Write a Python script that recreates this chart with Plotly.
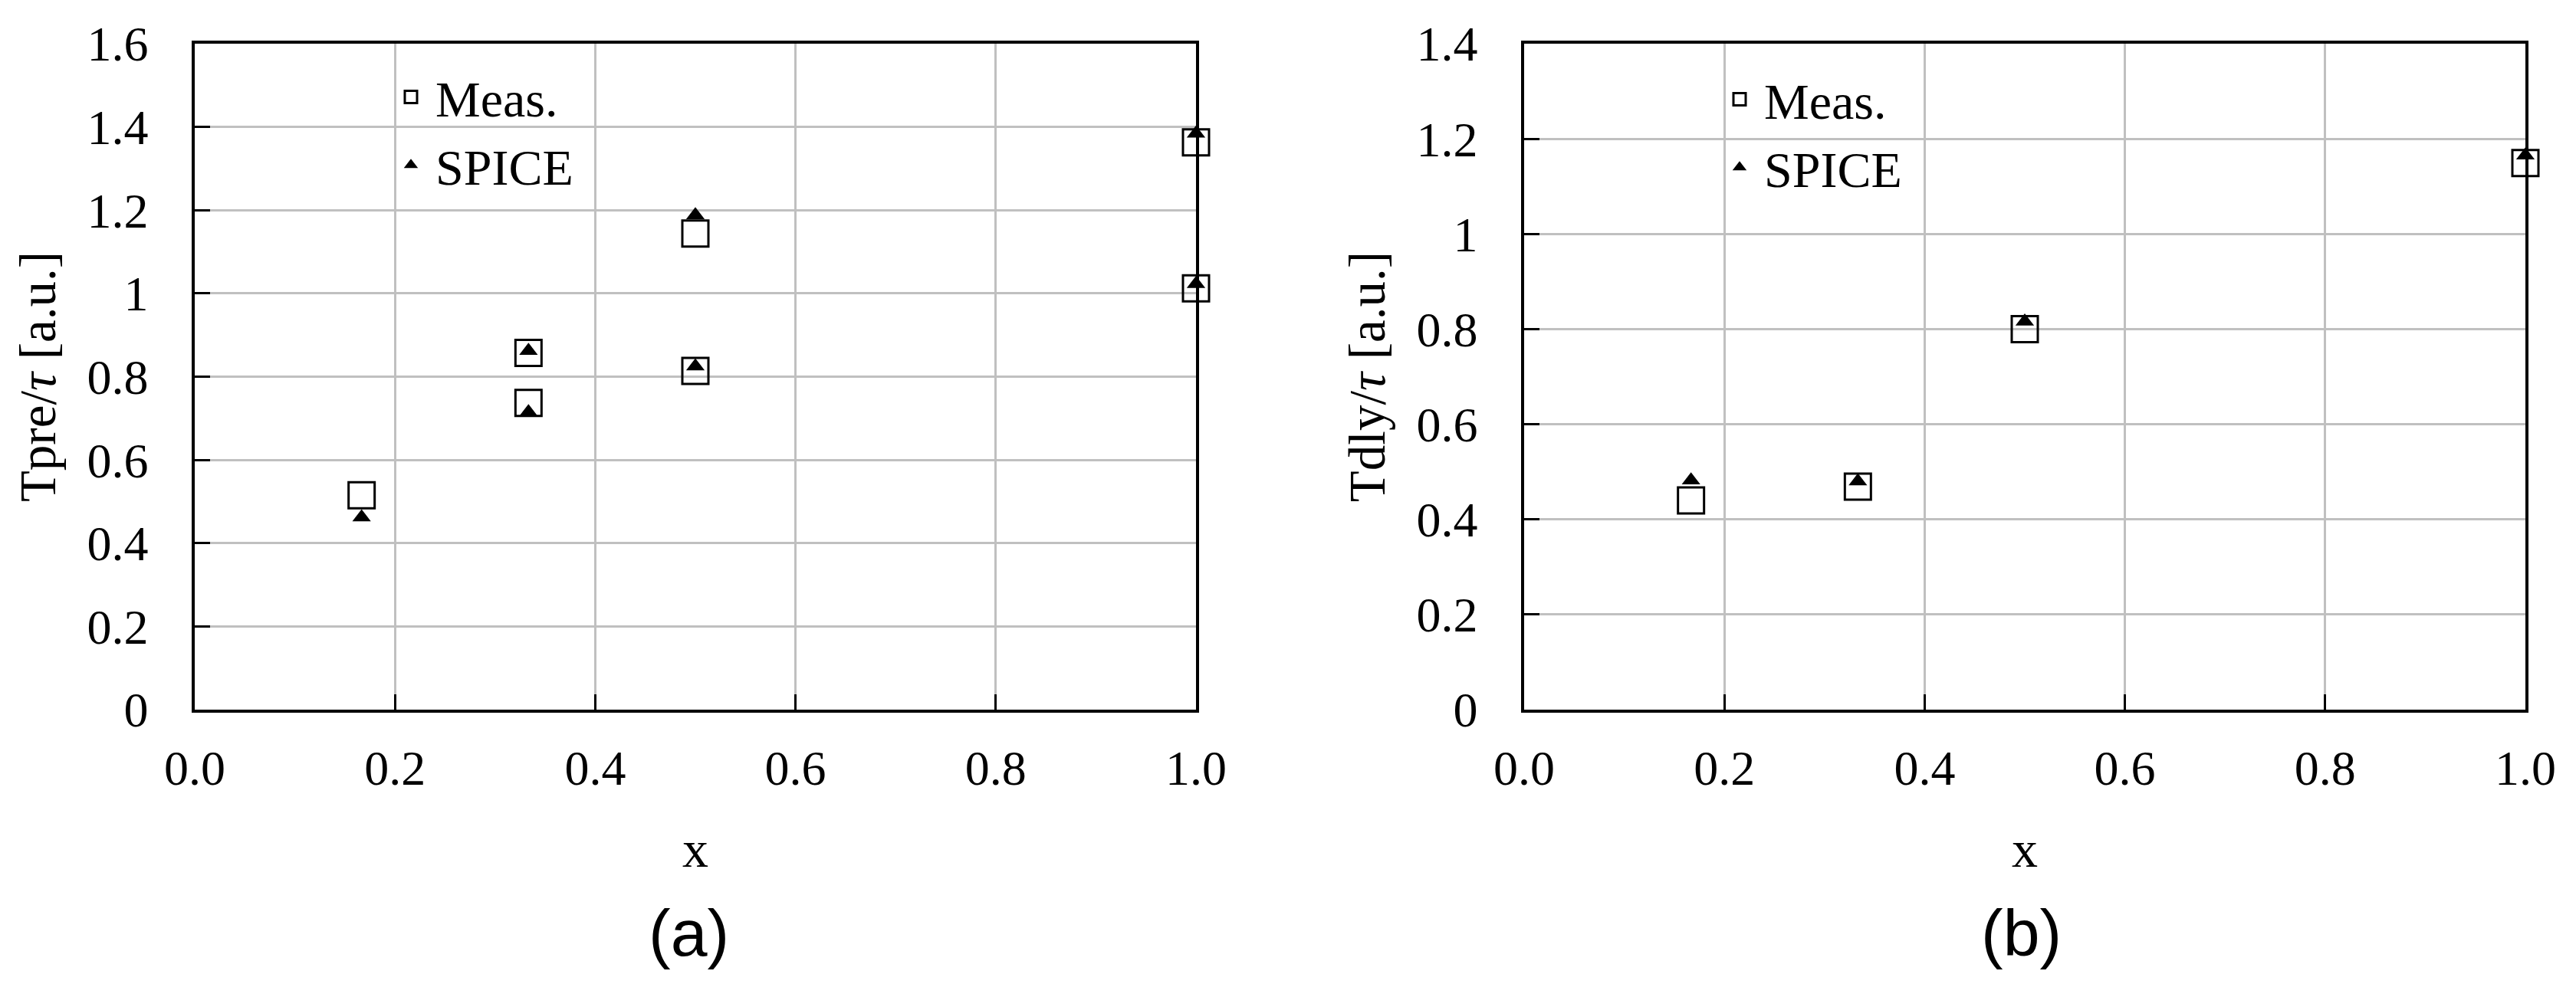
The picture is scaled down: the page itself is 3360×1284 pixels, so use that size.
import plotly.graph_objects as go

# ---- data: panel (a) ----
a_meas_x = [1/6, 1/3, 1/3, 0.5, 0.5, 1.0, 1.0]
a_meas_y = [0.515, 0.737, 0.857, 1.144, 0.814, 1.363, 1.012]
a_spice_x = [1/6, 1/3, 1/3, 0.5, 0.5, 1.0, 1.0]
a_spice_y = [0.462, 0.715, 0.862, 1.188, 0.825, 1.384, 1.023]

# ---- data: panel (b) ----
b_meas_x = [1/6, 1/3, 0.5, 1.0]
b_meas_y = [0.440, 0.469, 0.800, 1.149]
b_spice_x = [1/6, 1/3, 0.5, 1.0]
b_spice_y = [0.482, 0.480, 0.816, 1.165]

x_ticks = [0.0, 0.2, 0.4, 0.6, 0.8, 1.0]
a_title_y = "Tpre/<i>τ</i> [a.u.]"
b_title_y = "Tdly/<i>τ</i> [a.u.]"
title_x = "x"
panel_labels = ["(a)", "(b)"]

# page is 3360x1284; the html body has an 8px margin
OFF = 8
W, H = 3360 - 2 * OFF, 1284 - 2 * OFF
SERIF = "Liberation Serif, Times New Roman, serif"
SANS = "Liberation Sans, Arial, sans-serif"

def px(p):
    return (p - OFF) / W

def py(p):
    return 1 - (p - OFF) / H

meas_marker = dict(symbol="square-open", size=34, color="black",
                   line=dict(width=3, color="black"))
spice_marker = dict(symbol="triangle-up", size=21, color="black",
                    line=dict(width=0))

fig = go.Figure()
fig.add_trace(go.Scatter(x=a_meas_x, y=a_meas_y, mode="markers", name="Meas.",
                         marker=meas_marker, cliponaxis=False,
                         xaxis="x", yaxis="y", legend="legend"))
fig.add_trace(go.Scatter(x=a_spice_x, y=a_spice_y, mode="markers", name="SPICE",
                         marker=spice_marker, cliponaxis=False,
                         xaxis="x", yaxis="y", legend="legend"))
fig.add_trace(go.Scatter(x=b_meas_x, y=b_meas_y, mode="markers", name="Meas.",
                         marker=meas_marker, cliponaxis=False,
                         xaxis="x2", yaxis="y2", legend="legend2"))
fig.add_trace(go.Scatter(x=b_spice_x, y=b_spice_y, mode="markers", name="SPICE",
                         marker=spice_marker, cliponaxis=False,
                         xaxis="x2", yaxis="y2", legend="legend2"))

ydom = [py(926), py(57)]
xdom1 = [px(254), px(1560)]
xdom2 = [px(1988), px(3294)]

common = dict(showline=True, linecolor="black", linewidth=3.5, mirror=True,
              ticks="inside", ticklen=20, tickwidth=3, tickcolor="black",
              showgrid=True, gridcolor="#c0c0c0", gridwidth=3, zeroline=False,
              automargin=False,
              tickfont=dict(family=SERIF, size=64, color="black"))

def xax(dom, anchor):
    return dict(common, domain=dom, anchor=anchor, range=[0, 1],
                tickvals=x_ticks, tickformat=".1f", ticklabelstandoff=17,
                title=dict(text=title_x, standoff=48,
                           font=dict(family=SERIF, size=68, color="black")))

def yax(dom, anchor, rmax, title):
    return dict(common, domain=dom, anchor=anchor, range=[0, rmax], dtick=0.2,
                tick0=0, ticklabelstandoff=44,
                title=dict(text=title, standoff=20,
                           font=dict(family=SERIF, size=67, color="black")))

legend_common = dict(bgcolor="rgba(0,0,0,0)", borderwidth=0,
                     font=dict(family=SERIF, size=66, color="black"),
                     xanchor="left", yanchor="top", tracegroupgap=0,
                     itemwidth=54)

fig.update_layout(
    width=W, height=H,
    margin=dict(l=0, r=0, t=0, b=0, autoexpand=False),
    paper_bgcolor="white", plot_bgcolor="white",
    xaxis=xax(xdom1, "y"),
    yaxis=yax(ydom, "x", 1.6, a_title_y),
    xaxis2=xax(xdom2, "y2"),
    yaxis2=yax(ydom, "x2", 1.4, b_title_y),
    legend=dict(legend_common, x=px(504), y=py(77)),
    legend2=dict(legend_common, x=px(2237), y=py(80)),
    annotations=[
        dict(text=panel_labels[0], x=px(898), y=py(1217), xref="paper", yref="paper",
             showarrow=False, xanchor="center", yanchor="middle",
             font=dict(family=SANS, size=86, color="black")),
        dict(text=panel_labels[1], x=px(2636), y=py(1217), xref="paper", yref="paper",
             showarrow=False, xanchor="center", yanchor="middle",
             font=dict(family=SANS, size=86, color="black")),
    ],
    showlegend=True,
)

fig.write_html("out.html")
